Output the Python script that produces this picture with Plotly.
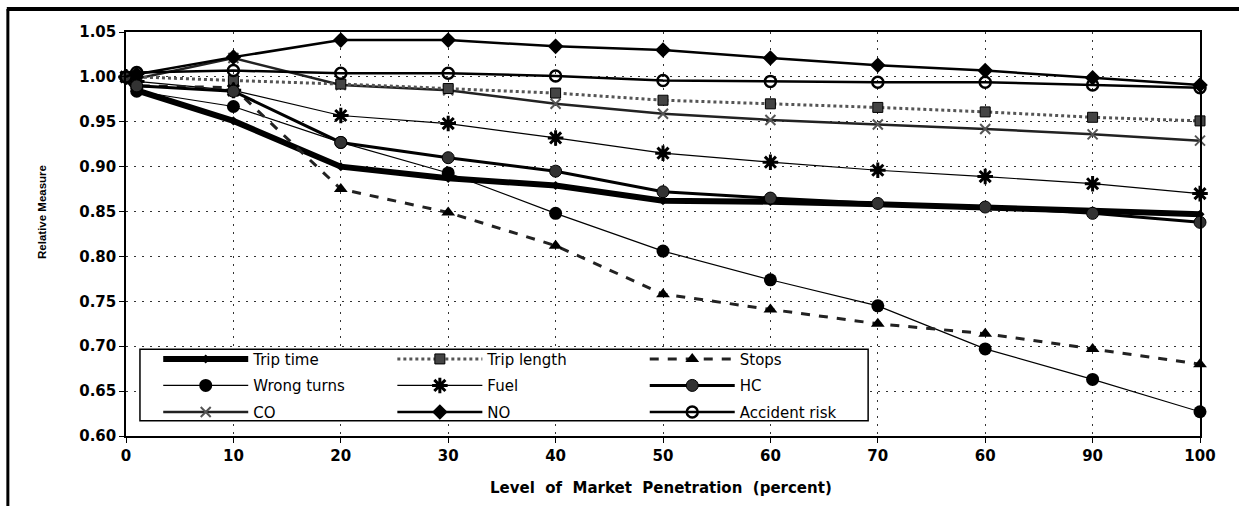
import plotly.graph_objects as go

# Market penetration levels (percent) and relative measures per indicator
penetration = [0, 1, 10, 20, 30, 40, 50, 60, 70, 80, 90, 100]
tick_values = [0, 10, 20, 30, 40, 50, 60, 70, 80, 90, 100]
tick_labels = ["0", "10", "20", "30", "40", "50", "60", "70", "60", "90", "100"]

trip_time = [1.000, 0.985, 0.951, 0.900, 0.887, 0.879, 0.862, 0.861, 0.858, 0.855, 0.851, 0.847]
trip_length = [1.000, 1.000, 0.996, 0.992, 0.987, 0.982, 0.974, 0.970, 0.966, 0.961, 0.955, 0.951]
stops = [1.000, 0.990, 0.988, 0.875, 0.849, 0.812, 0.758, 0.741, 0.725, 0.714, 0.697, 0.680]
wrong_turns = [1.000, 0.984, 0.967, 0.927, 0.893, 0.848, 0.806, 0.774, 0.745, 0.697, 0.663, 0.627]
fuel = [1.000, 0.995, 0.985, 0.957, 0.948, 0.932, 0.915, 0.905, 0.896, 0.889, 0.881, 0.870]
hc = [1.000, 0.990, 0.984, 0.927, 0.910, 0.895, 0.872, 0.865, 0.859, 0.855, 0.848, 0.838]
co = [1.000, 0.998, 1.021, 0.991, 0.985, 0.970, 0.959, 0.952, 0.947, 0.942, 0.936, 0.929]
no = [1.000, 1.003, 1.022, 1.041, 1.041, 1.034, 1.030, 1.021, 1.013, 1.007, 0.999, 0.991]
accident_risk = [1.000, 1.005, 1.007, 1.004, 1.004, 1.001, 0.996, 0.995, 0.994, 0.994, 0.991, 0.988]

FONT = "DejaVu Sans"

# name, values, line style, marker style, legend id
series = [
    ("Trip time", trip_time, dict(color="black", width=6), dict(symbol="diamond", size=7, color="black"), "legend"),
    ("Wrong turns", wrong_turns, dict(color="black", width=1.2), dict(symbol="circle", size=13, color="black"), "legend"),
    ("CO", co, dict(color="#222", width=2.5), dict(symbol="x-thin-open", size=10, color="#555", line=dict(width=2, color="#555")), "legend"),
    ("Trip length", trip_length, dict(color="#555", width=3, dash="dot"), dict(symbol="square", size=10, color="#444", line=dict(width=1, color="black")), "legend2"),
    ("Fuel", fuel, dict(color="black", width=1.2), dict(symbol="asterisk-open", size=13, color="black", line=dict(width=3, color="black")), "legend2"),
    ("NO", no, dict(color="black", width=2.5), dict(symbol="diamond", size=12, color="black"), "legend2"),
    ("Stops", stops, dict(color="#222", width=3, dash="dash"), dict(symbol="triangle-up", size=12, color="black"), "legend3"),
    ("HC", hc, dict(color="black", width=3), dict(symbol="circle", size=12, color="#333", line=dict(width=1, color="black")), "legend3"),
    ("Accident risk", accident_risk, dict(color="black", width=2.5), dict(symbol="circle-open", size=11, color="black", line=dict(width=2.5, color="black")), "legend3"),
]

fig = go.Figure()
for name, vals, line, marker, leg in series:
    fig.add_trace(go.Scatter(
        x=penetration, y=vals, name=name, mode="lines+markers",
        line=line, marker=marker, cliponaxis=False,
        legend=leg, legendgroup=name,
    ))

legend_common = dict(
    font=dict(family=FONT, size=15, color="black"),
    bgcolor="rgba(0,0,0,0)", borderwidth=0, itemwidth=85,
    tracegroupgap=4, yanchor="top", xanchor="left", y=0.231,
    itemclick=False, itemdoubleclick=False,
)

grid_style = dict(showgrid=True, gridcolor="#333", griddash="2px,6px", gridwidth=1)

fig.update_layout(
    width=1239, height=506,
    margin=dict(l=126, r=39, t=32, b=70),
    paper_bgcolor="white", plot_bgcolor="white",
    font=dict(family=FONT, color="black"),
    showlegend=True,
    legend=dict(x=0.030, **legend_common),
    legend2=dict(x=0.248, **legend_common),
    legend3=dict(x=0.483, **legend_common),
    xaxis=dict(
        range=[0, 100], tickvals=tick_values, ticktext=tick_labels,
        showline=True, linecolor="black", linewidth=1.5, mirror=True,
        ticks="outside", ticklen=5, tickcolor="black",
        zeroline=False,
        tickfont=dict(family=FONT, size=15, color="black", weight="bold"),
        **grid_style,
    ),
    yaxis=dict(
        range=[0.60, 1.05], dtick=0.05, tick0=0.60, tickformat=".2f",
        showline=True, linecolor="black", linewidth=1.5, mirror=True,
        ticks="outside", ticklen=5, tickcolor="black",
        zeroline=False,
        tickfont=dict(family=FONT, size=15, color="black", weight="bold"),
        **grid_style,
    ),
    shapes=[
        # legend frame
        dict(type="rect", xref="x", yref="y", x0=1.3, x1=69.1, y0=0.617, y1=0.6965,
             line=dict(color="black", width=1.5), fillcolor="white", layer="above"),
        # page frame: top and left rules
        dict(type="line", xref="paper", yref="paper", x0=-0.111, x1=1.04, y0=1.0569, y1=1.0569,
             line=dict(color="black", width=4)),
        dict(type="line", xref="paper", yref="paper", x0=-0.110, x1=-0.110, y0=1.0569, y1=-0.2,
             line=dict(color="black", width=3)),
    ],
    annotations=[
        dict(text="<b>Relative Measure</b>", xref="paper", yref="paper",
             x=-0.0782, y=0.5545, textangle=-90, showarrow=False,
             font=dict(family="Liberation Sans", size=11.5, color="black"),
             xanchor="center", yanchor="middle"),
        dict(text="<b>Level  of  Market  Penetration  (percent)</b>", xref="paper", yref="paper",
             x=0.498, y=-0.129, showarrow=False,
             font=dict(family=FONT, size=15, color="black"),
             xanchor="center", yanchor="middle"),
    ],
)

fig.write_html("out.html")
